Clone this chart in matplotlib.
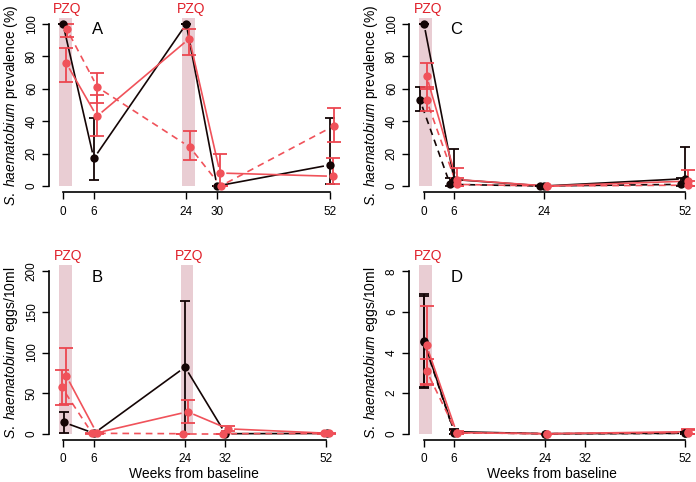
import numpy as np
import matplotlib
matplotlib.use("Agg")
import matplotlib.pyplot as plt

plt.rcParams['font.family'] = ['Liberation Sans', 'DejaVu Sans']
plt.rcParams['mathtext.fontset'] = 'custom'
plt.rcParams['mathtext.it'] = 'Liberation Sans:italic'
plt.rcParams['mathtext.rm'] = 'Liberation Sans'

# ---- data ----
weeks_ab = [0, 6, 24, 30, 52]
weeks_b = [0, 6, 24, 32, 52]
weeks_cd = [0, 6, 24, 52]

# A: prevalence (%)
a_black = [100, 17, 100, 0, 13]
a_black_lo = [100, 3.5, 100, 0, 1.5]
a_black_hi = [100, 42, 100, 0, 42]
a_red = [76, 43, 91, 8, 6]
a_red_lo = [64, 31, 81, 0, 1.5]
a_red_hi = [85, 56, 97, 20, 17]
a_redd = [97, 61, 24, 0, 37]
a_redd_lo = [92, 51, 16, 0, 27]
a_redd_hi = [100, 70, 34, 0, 48]

# B: eggs/10ml
b_black = [14, 0.5, 82, 0, 0.3]
b_black_lo = [1, 0, 0, 0, 0]
b_black_hi = [27, 1, 164, 0.5, 0.5]
b_red = [71, 1, 27, 6, 0.5]
b_red_lo = [37, 0, 13, 3, 0]
b_red_hi = [106, 2, 42, 9, 1]
b_redd = [57, 0.5, 0, 0, 0.3]
b_redd_lo = [35, 0, 0, 0, 0]
b_redd_hi = [79, 1, 0, 0, 0.5]

# C: prevalence (%)
c_black = [100, 4, 0, 4.5]
c_black_lo = [100, 0, 0, 0]
c_black_hi = [100, 23, 0, 24]
c_blackd = [53, 1, 0, 1]
c_blackd_lo = [46, 0, 0, 0]
c_blackd_hi = [61, 5, 0, 5]
c_red = [68, 4, 0, 3]
c_red_lo = [60, 0, 0, 0]
c_red_hi = [76, 11, 0, 10]
c_redd = [53, 1, 0, 0.5]
c_redd_lo = [46, 0, 0, 0]
c_redd_hi = [61, 5, 0, 3]

# D: eggs/10ml
d_black = [4.55, 0.1, 0, 0.02]
d_black_lo = [2.25, 0, 0, 0]
d_black_hi = [6.9, 0.25, 0, 0.1]
d_blackd = [4.5, 0.05, 0, 0.02]
d_blackd_lo = [2.3, 0, 0, 0]
d_blackd_hi = [6.8, 0.2, 0, 0.1]
d_red = [4.35, 0.05, 0, 0.1]
d_red_lo = [2.4, 0, 0, 0]
d_red_hi = [6.3, 0.15, 0, 0.25]
d_redd = [3.1, 0.05, 0, 0.05]
d_redd_lo = [2.45, 0, 0, 0]
d_redd_hi = [3.7, 0.1, 0, 0.2]

pzq_ab = [0, 24]
pzq_cd = [0]

BLACK = '#140505'
RED = '#F0525A'
RED_ERR = '#EC4650'
SHADE = '#E9CDD3'
PZQ_COL = '#E0202A'

W, H = 696, 482
fig = plt.figure(figsize=(W / 100, H / 100), dpi=100)


def make_ax(x_axis, x0, x52, y_top_px, y0_px, ytop_val, xmax_val):
    # pixel geometry -> axes in figure fraction
    pxw = (x52 - x0) / 52.0
    left_val = (x_axis - x0) / pxw
    pyu = (y0_px - y_top_px) / ytop_val
    ylo = -0.04 * ytop_val
    yhi = 1.04 * ytop_val
    bot_px = y0_px - ylo * pyu
    top_px = y0_px - yhi * pyu
    right_px = x0 + xmax_val * pxw
    ax = fig.add_axes([x_axis / W, 1 - bot_px / H, (right_px - x_axis) / W, (bot_px - top_px) / H])
    ax.set_xlim(left_val, xmax_val)
    ax.set_ylim(ylo, yhi)
    for s in ['top', 'right']:
        ax.spines[s].set_visible(False)
    ax.spines['left'].set_bounds(0, ytop_val)
    ax.spines['bottom'].set_bounds(0, 52)
    return ax


def gapped(ax, x, y, gap, **kw):
    pts = ax.transData.transform(np.column_stack([x, y]))
    inv = ax.transData.inverted()
    for p0, p1 in zip(pts[:-1], pts[1:]):
        d = p1 - p0
        L = np.hypot(d[0], d[1])
        if L <= 2 * gap:
            continue
        u = d / L
        a = inv.transform(p0 + u * gap)
        b = inv.transform(p1 - u * gap)
        ax.plot([a[0], b[0]], [a[1], b[1]], **kw)


def series(ax, weeks, jit, vals, lo, hi, color, ecolor, ls, cap):
    x = np.array(weeks, dtype=float) + jit
    vals = np.array(vals, dtype=float)
    yerr = [vals - np.array(lo), np.array(hi) - vals]
    ax.errorbar(x, vals, yerr=yerr, fmt='none', ecolor=ecolor, elinewidth=1.3,
                capsize=cap, capthick=1.3, zorder=3)
    gapped(ax, x, vals, 7, color=color, lw=1.2, ls=ls, zorder=2)
    ax.plot(x, vals, 'o', color=color, ms=6, mec='none', zorder=4)


def decorate(ax, ticks, yticks, ylabel, letter, pzq, shade_lo, shade_hi, xlabel):
    top = ax.get_ylim()[1]
    for w in pzq:
        ax.fill_between([w + shade_lo, w + shade_hi], 0, top, color=SHADE, lw=0, zorder=1)
        ax.annotate('PZQ', xy=(w + 0.9, 1), xycoords=('data', 'axes fraction'),
                    xytext=(0, 3.2), textcoords='offset points', color=PZQ_COL,
                    fontsize=10, ha='center', va='baseline', annotation_clip=False)
    ax.set_xticks(ticks)
    ax.set_xticklabels([str(t) for t in ticks], fontsize=8.5)
    ax.set_yticks(yticks)
    ax.set_yticklabels([str(t) for t in yticks], fontsize=8.5, rotation=90, va='center')
    ax.tick_params(length=5, width=1, pad=3)
    ax.tick_params(axis='x', pad=4.5)
    for s in ['left', 'bottom']:
        ax.spines[s].set_linewidth(1.2)
    ax.set_ylabel(ylabel, fontsize=10, labelpad=4)
    if xlabel:
        # centred on the axes box, baseline near the bottom edge of the figure
        bb = ax.get_position()
        fig.text(bb.x0 + bb.width / 2, 1 - 478 / H, 'Weeks from baseline',
                 fontsize=10, ha='center', va='baseline')
    ax.text(0.165, 0.93, letter, transform=ax.transAxes, fontsize=12, va='center', ha='center')


prev_lab = r'$\it{S.\ haematobium}$ prevalence (%)'
egg_lab = r'$\it{S.\ haematobium}$ eggs/10ml'

axA = make_ax(49, 63, 330, 24, 186, 100, 54.5)
axB = make_ax(49, 63.3, 326, 271.3, 433.7, 200, 54.5)
axC = make_ax(409, 424, 685, 24, 186, 100, 54.0)
axD = make_ax(409, 424, 685.3, 271.3, 433.7, 8, 54.0)

decorate(axA, weeks_ab, [0, 20, 40, 60, 80, 100], prev_lab, 'A', pzq_ab, -0.8, 1.7, False)
decorate(axB, weeks_b, [0, 50, 100, 150, 200], egg_lab, 'B', pzq_ab, -0.8, 1.7, True)
decorate(axC, weeks_cd, [0, 20, 40, 60, 80, 100], prev_lab, 'C', pzq_cd, -1.0, 1.5, False)
decorate(axD, [0, 6, 24, 32, 52], [0, 2, 4, 6, 8], egg_lab, 'D', pzq_cd, -1.0, 1.5, True)

series(axA, weeks_ab, 0.0, a_black, a_black_lo, a_black_hi, BLACK, BLACK, '-', 3.5)
series(axA, weeks_ab, 0.6, a_red, a_red_lo, a_red_hi, RED, RED_ERR, '-', 5)
series(axA, weeks_ab, 0.7, a_redd, a_redd_lo, a_redd_hi, RED, RED_ERR, (0, (4, 3)), 5)

series(axB, weeks_b, 0.1, b_black, b_black_lo, b_black_hi, BLACK, BLACK, '-', 3.5)
series(axB, weeks_b, 0.6, b_red, b_red_lo, b_red_hi, RED, RED_ERR, '-', 5)
series(axB, weeks_b, -0.3, b_redd, b_redd_lo, b_redd_hi, RED, RED_ERR, (0, (4, 3)), 5)

series(axC, weeks_cd, 0.0, c_black, c_black_lo, c_black_hi, BLACK, BLACK, '-', 3.5)
series(axC, weeks_cd, -0.8, c_blackd, c_blackd_lo, c_blackd_hi, BLACK, BLACK, (0, (4, 3)), 3.5)
series(axC, weeks_cd, 0.5, c_red, c_red_lo, c_red_hi, RED, RED_ERR, '-', 5)
series(axC, weeks_cd, 0.5, c_redd, c_redd_lo, c_redd_hi, RED, RED_ERR, (0, (4, 3)), 5)

series(axD, weeks_cd, 0.0, d_black, d_black_lo, d_black_hi, BLACK, BLACK, '-', 3.5)
series(axD, weeks_cd, 0.0, d_blackd, d_blackd_lo, d_blackd_hi, BLACK, BLACK, (0, (4, 3)), 3.5)
series(axD, weeks_cd, 0.5, d_red, d_red_lo, d_red_hi, RED, RED_ERR, '-', 5)
series(axD, weeks_cd, 0.5, d_redd, d_redd_lo, d_redd_hi, RED, RED_ERR, (0, (4, 3)), 5)

fig.savefig('out.png', dpi=100)
